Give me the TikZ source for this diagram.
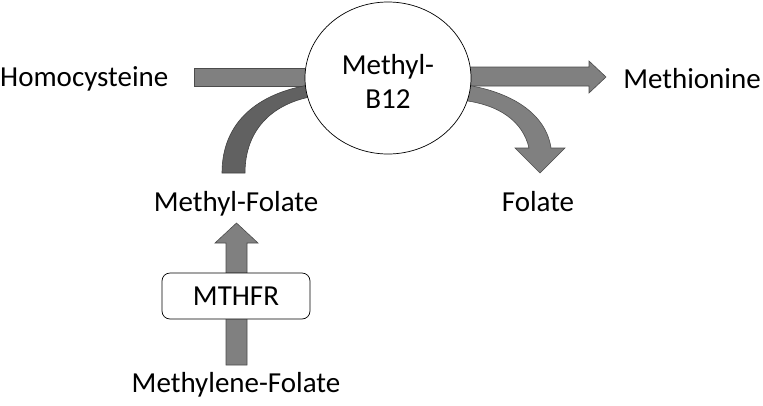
\documentclass[tikz,border=0pt]{standalone}
\usepackage{fontspec}
\setmainfont{Carlito}
\usetikzlibrary{shapes.geometric}
\begin{document}
\begin{tikzpicture}[x=1pt,y=-1pt,
  lbl/.style={font=\fontsize{29}{34}\selectfont, inner sep=0pt, align=center},
  flow/.style={fill=black!50, draw=black!70, line width=0.6pt},
  darkflow/.style={fill=black!62, draw=black!75, line width=0.6pt},
  enz/.style={draw=black, line width=0.7pt, fill=white, rounded corners=8pt, minimum width=148pt, minimum height=46pt, font=\fontsize{29}{34}\selectfont, inner sep=0pt}]
\useasboundingbox (0,0) rectangle (763,405);
% connectors (drawn first, behind the circle)
\coordinate (hl) at (194,68);
\coordinate (hr) at (320,86);
\draw[flow] (hl) rectangle (hr);
\draw[flow] (460,67) -- (589,67) -- (589,61) -- (606,77) -- (589,93) -- (589,86) -- (460,86) -- cycle;
\draw[flow] (460,84) .. controls (512,91) and (546,114) .. (551,148) -- (565,148) -- (540,173) -- (515,148) -- (529,148) .. controls (523,122) and (500,104) .. (460,100) -- cycle;
\draw[darkflow] (222,173) .. controls (222,122) and (258,92) .. (315,84) -- (315,96) .. controls (272,103) and (245,130) .. (245,173) -- cycle;
\draw[flow] (226,365) -- (226,243) -- (215,243) -- (236.5,223) -- (258,243) -- (247,243) -- (247,365) -- cycle;
% nodes
\node[draw=black, line width=0.7pt, fill=white, ellipse, minimum width=166pt, minimum height=152pt, inner sep=0pt] (b12) at (388,78) {};
\node[lbl] (b12t) at (388,81) {Methyl-\\B12};
\node[lbl, anchor=west] (homo) at (0,79) {Homocysteine};
\node[lbl, anchor=east] (meth) at (761,79) {Methionine};
\node[lbl] (fol) at (538,202) {Folate};
\node[lbl] (mfol) at (236,204) {Methyl-Folate};
\node[enz] (mthfr) at (236,296) {MTHFR};
\node[lbl] (mefol) at (236,385) {Methylene-Folate};
\end{tikzpicture}
\end{document}
